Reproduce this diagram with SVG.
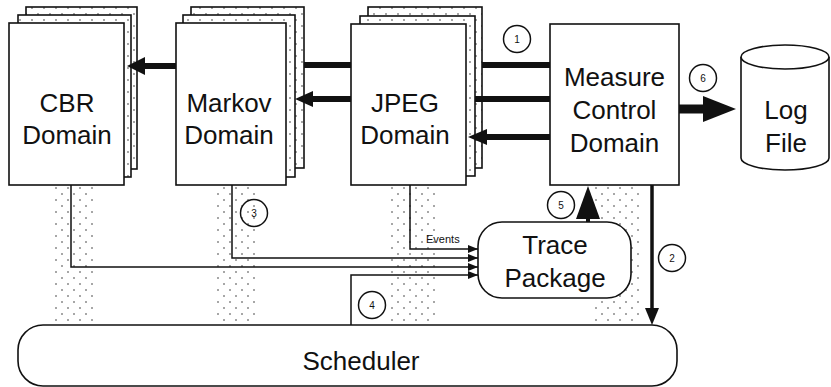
<svg xmlns="http://www.w3.org/2000/svg" width="831" height="387" viewBox="0 0 831 387">
<style>
.box{fill:#fff;stroke:#111;stroke-width:1.6}
.sheet{fill:url(#dots);stroke:#111;stroke-width:1.6}
.lbl{font-family:"Liberation Sans",Arial,sans-serif;font-size:26px;fill:#111;text-anchor:middle}
.num{font-family:"Liberation Sans",Arial,sans-serif;font-size:10px;fill:#111;text-anchor:middle}
.circ{fill:none;stroke:#111;stroke-width:1.5}
.thin{fill:none;stroke:#111;stroke-width:1.5}
.thick{fill:none;stroke:#111;stroke-width:6}
.head{fill:#111}
</style>
<defs>
<pattern id="dots" width="12" height="12" patternUnits="userSpaceOnUse">
<rect width="12" height="12" fill="#fff"/>
<circle cx="2" cy="2" r="0.75" fill="#222"/>
<circle cx="8" cy="8" r="0.75" fill="#222"/>
</pattern>
<pattern id="stip" width="12" height="12" patternUnits="userSpaceOnUse">
<circle cx="2" cy="2" r="0.75" fill="#222"/>
<circle cx="8" cy="8" r="0.75" fill="#222"/>
</pattern>
<marker id="sm" markerWidth="10" markerHeight="8" refX="10" refY="4" orient="auto" markerUnits="userSpaceOnUse">
<path d="M0,0 L10,4 L0,8 z" fill="#111"/>
</marker>
</defs>
<rect width="831" height="387" fill="#fff"/>
<g id="bands">
<rect x="53" y="185" width="44" height="140" fill="url(#stip)"/>
<rect x="215" y="185" width="43" height="140" fill="url(#stip)"/>
<rect x="388" y="185" width="50" height="140" fill="url(#stip)"/>
<rect x="595" y="185" width="45" height="140" fill="url(#stip)"/>
</g>
<g id="scheduler">
<rect class="box" x="18" y="325" width="659" height="61" rx="25"/>
<text class="lbl" x="361" y="370">Scheduler</text>
</g>
<g id="trace">
<rect class="box" x="478" y="222" width="153" height="76" rx="24"/>
<text class="lbl" x="555" y="254">Trace</text>
<text class="lbl" x="555" y="287">Package</text>
</g>
<g id="cbr">
<rect class="sheet" x="26" y="7" width="111" height="162"/>
<rect class="sheet" x="18" y="15" width="113" height="162"/>
<rect class="box" x="9" y="23" width="115" height="162"/>
<text class="lbl" x="67" y="112">CBR</text>
<text class="lbl" x="67" y="144">Domain</text>
</g>
<g id="markov">
<rect class="sheet" x="191" y="7" width="113" height="161"/>
<rect class="sheet" x="183" y="15" width="112" height="162"/>
<rect class="box" x="176" y="23" width="110" height="162"/>
<text class="lbl" x="229" y="112">Markov</text>
<text class="lbl" x="229" y="144">Domain</text>
</g>
<g id="jpeg">
<rect class="sheet" x="368" y="7" width="114" height="161"/>
<rect class="sheet" x="360" y="16" width="115" height="160"/>
<rect class="box" x="351" y="24" width="115" height="161"/>
<text class="lbl" x="405" y="112">JPEG</text>
<text class="lbl" x="405" y="144">Domain</text>
</g>
<g id="measure">
<rect class="box" x="550" y="24" width="129" height="161"/>
<text class="lbl" x="614.5" y="86">Measure</text>
<text class="lbl" x="614.5" y="119">Control</text>
<text class="lbl" x="614.5" y="152">Domain</text>
</g>
<g id="logfile">
<path class="box" d="M741,57 V158 A44,12 0 0 0 829,158 V57"/>
<ellipse class="box" cx="785" cy="57" rx="44" ry="12"/>
<text class="lbl" x="786" y="119">Log</text>
<text class="lbl" x="786" y="152">File</text>
</g>
<g id="connectors">
<line class="thick" x1="176" y1="66" x2="144" y2="66"/>
<path class="head" d="M127,66 L145,57 L145,75 z"/>
<line class="thick" x1="304" y1="65" x2="351" y2="65"/>
<line class="thick" x1="351" y1="99" x2="312" y2="99"/>
<path class="head" d="M295,99 L313,91 L313,107 z"/>
<line class="thick" x1="482" y1="65" x2="550" y2="65"/>
<line class="thick" x1="475" y1="99" x2="550" y2="99"/>
<line class="thick" x1="550" y1="137" x2="486" y2="137"/>
<path class="head" d="M468,137 L487,129 L487,145 z"/>
<line x1="679" y1="109" x2="705" y2="109" stroke="#111" stroke-width="9"/>
<path class="head" d="M736,109 L703,96 L703,122 z"/>
<line x1="652" y1="185" x2="652" y2="310" stroke="#111" stroke-width="3.5"/>
<path class="head" d="M652,325 L645,308 L659,308 z"/>
<line x1="588" y1="222" x2="588" y2="215" stroke="#111" stroke-width="4"/>
<path class="head" d="M588,186 L576,219 L600,219 z"/>
<path class="thin" d="M71,185 V267 H478" marker-end="url(#sm)"/>
<path class="thin" d="M232,185 V258 H478" marker-end="url(#sm)"/>
<path class="thin" d="M410,185 V249 H478" marker-end="url(#sm)"/>
<path class="thin" d="M351,325 V275 H478" marker-end="url(#sm)"/>
<text x="426" y="243" font-family="Liberation Sans, Arial, sans-serif" font-size="11" fill="#111">Events</text>
<circle class="circ" cx="517" cy="39" r="13.5"/><text class="num" x="517" y="43">1</text>
<circle class="circ" cx="672" cy="258" r="13.5"/><text class="num" x="672" y="262">2</text>
<circle class="circ" cx="254" cy="213" r="13.5"/><text class="num" x="254" y="217">3</text>
<circle class="circ" cx="372" cy="305" r="13.5"/><text class="num" x="372" y="309">4</text>
<circle class="circ" cx="561" cy="205" r="13.5"/><text class="num" x="561" y="209">5</text>
<circle class="circ" cx="703" cy="78" r="13.5"/><text class="num" x="703" y="82">6</text>
</g>
</svg>
